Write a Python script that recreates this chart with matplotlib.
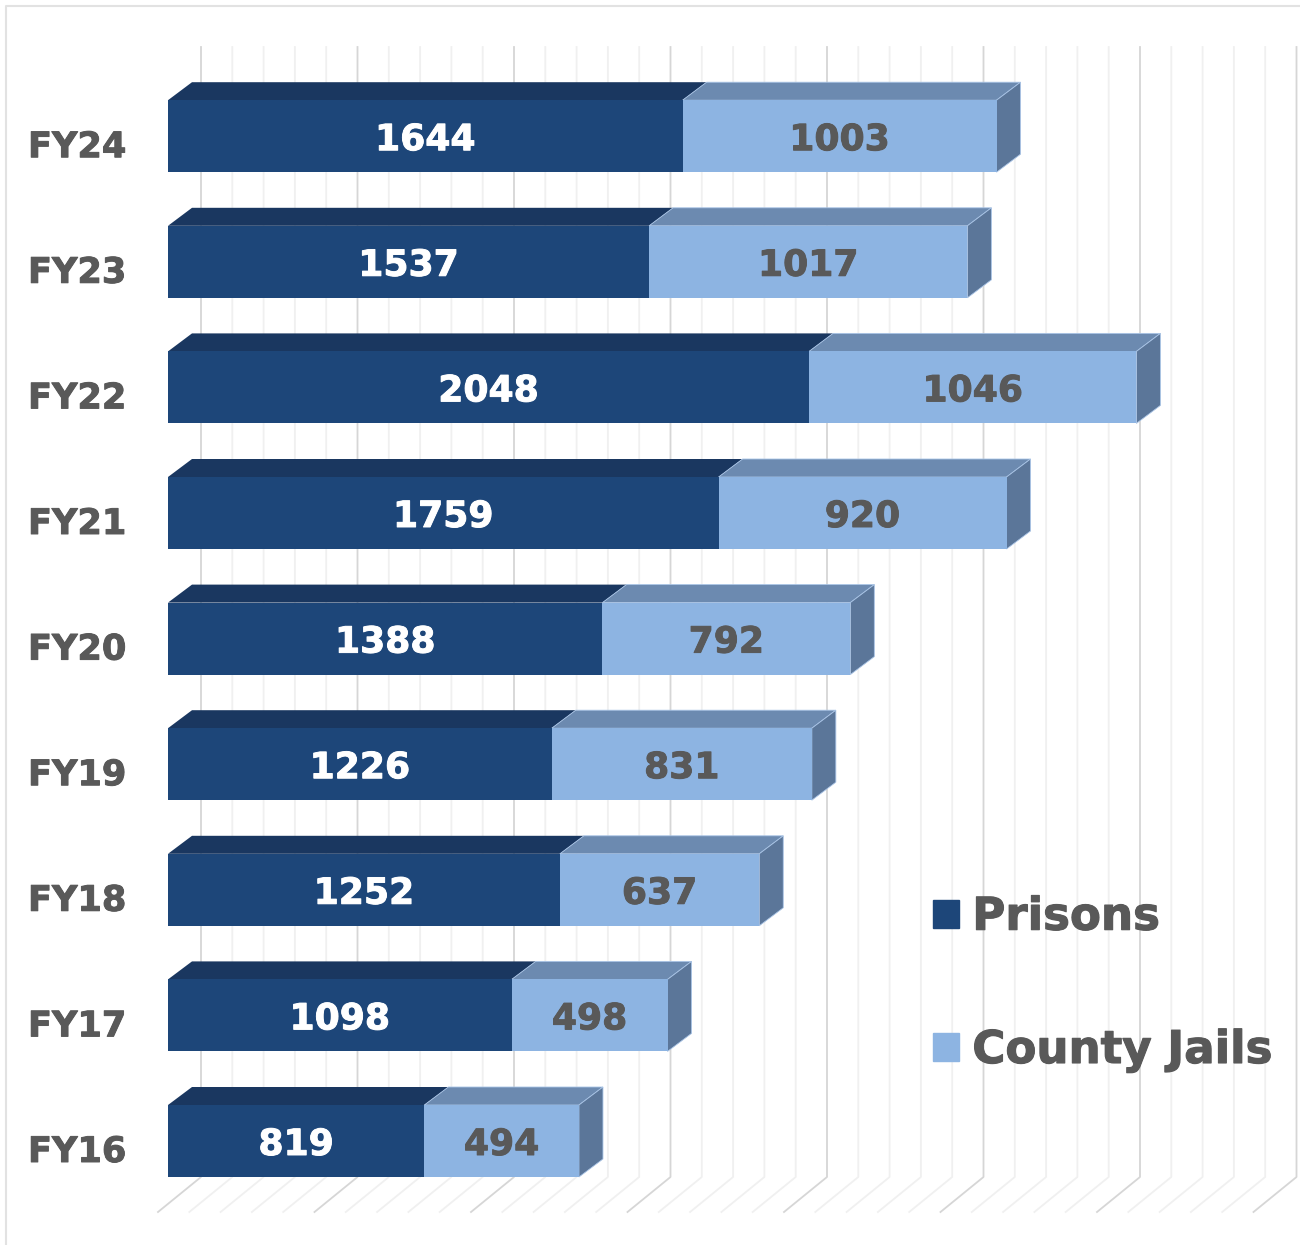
import matplotlib
matplotlib.use('Agg')
import matplotlib.pyplot as plt
import matplotlib.patheffects as pe
from matplotlib.lines import Line2D
from matplotlib.patches import Patch

# Values, bottom row first
years = ['FY16', 'FY17', 'FY18', 'FY19', 'FY20', 'FY21', 'FY22', 'FY23', 'FY24']
prisons = [819, 1098, 1252, 1226, 1388, 1759, 2048, 1537, 1644]
jails = [494, 498, 637, 831, 792, 920, 1046, 1017, 1003]
grid_ticks = list(range(0, 3600, 100))

# Colours
dark = '#1d4679'
dark_top = '#1a3760'
light = '#8db4e2'
light_top = '#6c8ab0'
light_side = '#5b7699'
text_col = '#595959'

# Scale of the picture: pixels per unit and per row
px_x = 0.3130
px_y = 125.6
bar_h = 72 / px_y
dep_x = 24 / px_x
dep_y = 18 / px_y

fig = plt.figure(figsize=(13, 12.45), dpi=100)
ax = fig.add_axes([0, 0, 1, 1])
ax.set_xlim(-168 / px_x, (1300 - 168) / px_x)
ax.set_ylim(-(1245 - 1141) / px_y, 1141 / px_y)
ax.axis('off')

# Card border
fig.add_artist(Line2D([6 / 1300, 6 / 1300, 1], [0, 1 - 6 / 1245, 1 - 6 / 1245], color='#e2e2e2', lw=1.5))

# Back wall grid and floor lines
wall_off = 33 / px_x
floor_dx = 43 / px_x
floor_dy = 35 / px_y
y_base = -bar_h / 2
y_top = (1141 - 47) / px_y
for t in grid_ticks:
    col = '#d6d6d6' if t % 500 == 0 else '#f0f0f0'
    ax.plot([t + wall_off - floor_dx, t + wall_off, t + wall_off],
            [y_base - floor_dy, y_base, y_top], color=col, lw=1.3, zorder=1)

# 3D sides of the bars
for i in range(len(years)):
    top = i + bar_h / 2
    mid = prisons[i]
    end = prisons[i] + jails[i]
    ax.fill([0, mid, mid + dep_x, dep_x], [top, top, top + dep_y, top + dep_y],
            color=dark_top, lw=0, zorder=2)
    ax.fill([mid, end, end + dep_x, mid + dep_x], [top, top, top + dep_y, top + dep_y],
            facecolor=light_top, edgecolor='#a9c4e6', lw=0.6, zorder=2)
    ax.fill([end, end + dep_x, end + dep_x, end],
            [top, top + dep_y, top + dep_y - bar_h, top - bar_h],
            facecolor=light_side, edgecolor='#a9c4e6', lw=0.6, zorder=2)

# Front faces
rows = list(range(len(years)))
ax.barh(rows, prisons, height=bar_h, color=dark, zorder=3)
ax.barh(rows, jails, left=prisons, height=bar_h, color=light, zorder=3)

# Slight stroke, the original font is heavier than DejaVu Bold
heavy_w = [pe.withStroke(linewidth=0.7, foreground='white')]
heavy_g = [pe.withStroke(linewidth=0.7, foreground=text_col)]
for i in rows:
    ax.text(prisons[i] / 2, i - 4 / px_y, str(prisons[i]), color='white', fontsize=26,
            fontweight='bold', ha='center', va='center', zorder=4, path_effects=heavy_w)
    ax.text(prisons[i] + jails[i] / 2, i - 4 / px_y, str(jails[i]), color=text_col, fontsize=26,
            fontweight='bold', ha='center', va='center', zorder=4, path_effects=heavy_g)
    ax.annotate(years[i], (0, i), xytext=(-140, -11), textcoords='offset pixels',
                color=text_col, fontsize=25.3, fontweight='bold', ha='left', va='center',
                path_effects=heavy_g)

handles = [Patch(color=dark), Patch(color=light)]
leg = ax.legend(handles, ['Prisons', 'County Jails'], loc='lower left',
                bbox_to_anchor=(933 / 1300, 1 - 1072 / 1245), frameon=False,
                prop={'size': 32.5, 'weight': 'bold'}, labelcolor=text_col,
                handlelength=0.58, handleheight=0.58, handletextpad=0.29,
                labelspacing=2.0, borderpad=0, borderaxespad=0)
for label in leg.get_texts():
    label.set_path_effects([pe.withStroke(linewidth=0.8, foreground=text_col)])

fig.savefig('out.png', dpi=100)
